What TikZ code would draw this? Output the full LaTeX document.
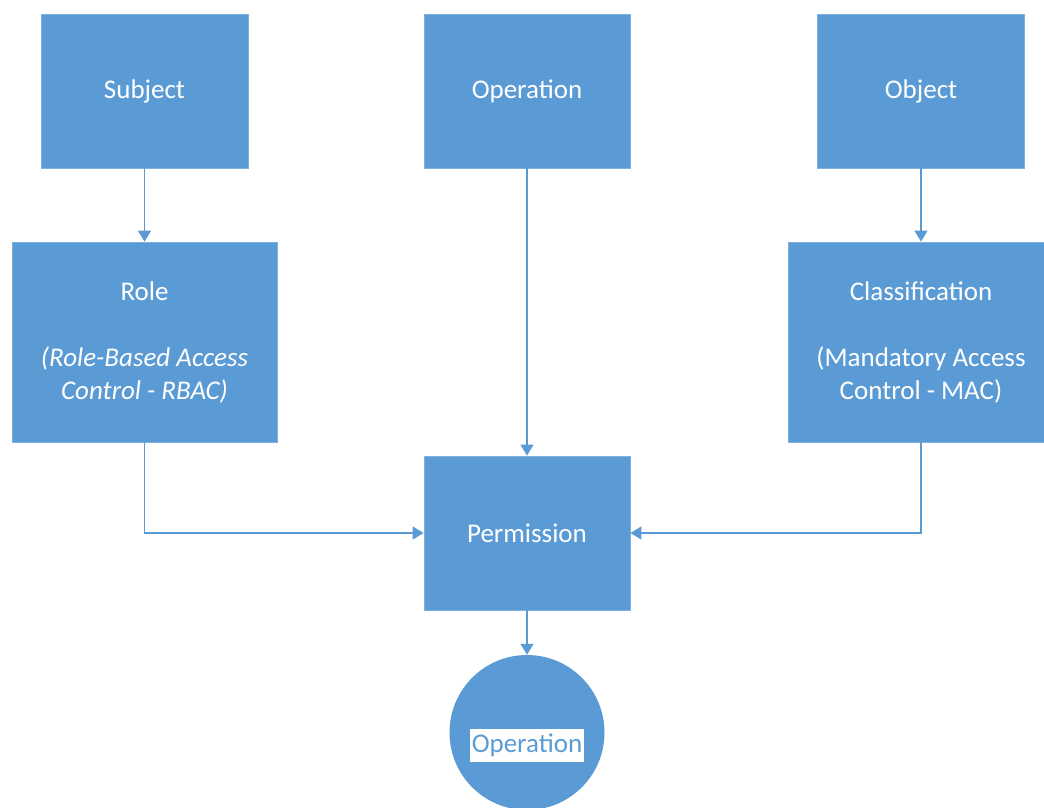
\documentclass[tikz,border=0pt]{standalone}
\usepackage{fontspec}
\setmainfont{Carlito}
\usetikzlibrary{arrows.meta}
\definecolor{boxblue}{HTML}{5B9BD5}
\definecolor{edgeblue}{HTML}{7FB0DE}
\definecolor{lineblue}{HTML}{5B9BD5}
\tikzset{
  box/.style={rectangle, fill=boxblue, draw=edgeblue, line width=0.8pt, text=white, align=center, inner sep=0pt,
    font=\fontsize{27}{33}\selectfont},
  conn/.style={draw=lineblue, line width=1.3pt, -{Triangle[length=11pt,width=13pt]}},
}
\begin{document}
\begin{tikzpicture}[x=1pt,y=-1pt]
\useasboundingbox (0,0) rectangle (1044,808);
\clip (0,0) rectangle (1044,808);
\node[box, minimum width=207pt, minimum height=154pt] (subject) at (144.5,91) {Subject};
\node[box, minimum width=206pt, minimum height=154pt] (operation) at (527,91) {Operation};
\node[box, minimum width=207pt, minimum height=154pt] (object) at (921,91) {Object};
\node[box, minimum width=265pt, minimum height=200pt] (role) at (144.5,342) {Role\\[33pt]\textit{(Role-Based Access}\\\textit{Control - RBAC)}};
\node[box, minimum width=266pt, minimum height=200pt] (class) at (921,342) {Classification\\[33pt](Mandatory Access\\Control - MAC)};
\node[box, minimum width=206pt, minimum height=154pt] (perm) at (527,533) {Permission};
\node[circle, fill=boxblue, minimum size=155pt, inner sep=0pt] (circ) at (527,732.5) {};
\node[fill=white, text=boxblue, inner sep=1pt, minimum width=114pt, minimum height=33pt, font=\fontsize{27}{30}\selectfont] (oplabel) at (527,745) {Operation};
\draw[conn] (subject.south) -- (role.north);
\draw[conn] (object.south) -- (class.north);
\draw[conn] (operation.south) -- (perm.north);
\draw[conn] (role.south) |- (perm.west);
\draw[conn] (class.south) |- (perm.east);
\draw[conn] (perm.south) -- (circ.north);
\end{tikzpicture}
\end{document}
